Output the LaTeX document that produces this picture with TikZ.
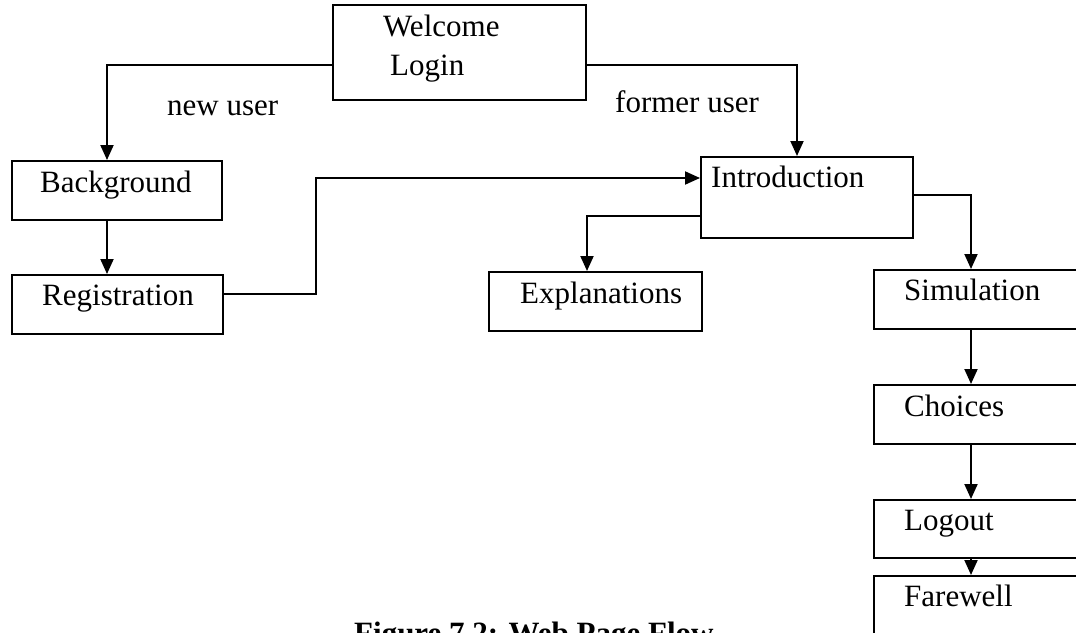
\documentclass[tikz,border=0pt]{standalone}
\usepackage{fontspec}
\setmainfont{Liberation Serif}
\usetikzlibrary{arrows.meta}
\tikzset{
  box/.style={draw, line width=2pt, rectangle, inner sep=0pt},
  lbl/.style={anchor=base west, inner sep=0pt, font=\fontsize{31}{36}\selectfont},
  arr/.style={line width=2pt, -{Triangle[length=15pt,width=13pt]}},
}
\begin{document}
\begin{tikzpicture}[x=1pt,y=-1pt]
\useasboundingbox (0,0) rectangle (1076,632);
\clip (0,0) rectangle (1076,632);
\fill[white] (0,0) rectangle (1076,632);
% boxes
\node[box, minimum width=253pt, minimum height=95pt] (welcome) at (459.5,52.5) {};
\node[box, minimum width=210pt, minimum height=59pt] (background) at (117,190.5) {};
\node[box, minimum width=211pt, minimum height=59pt] (registration) at (117.5,304.5) {};
\node[box, minimum width=212pt, minimum height=81pt] (intro) at (807,197.5) {};
\node[box, minimum width=213pt, minimum height=59pt] (expl) at (595.5,301.5) {};
\node[box, minimum width=216pt, minimum height=59pt] (sim) at (982,299.5) {};
\node[box, minimum width=216pt, minimum height=59pt] (choices) at (982,414.5) {};
\node[box, minimum width=216pt, minimum height=58pt] (logout) at (982,529) {};
\node[box, minimum width=216pt, minimum height=64pt] (farewell) at (982,608) {};
% texts
\node[lbl] (tw) at (383,36) {Welcome};
\node[lbl] (tl) at (390,75) {Login};
\node[lbl] (tnew) at (167,115) {new user};
\node[lbl] (tformer) at (615,112) {former user};
\node[lbl] (tb) at (40,192) {Background};
\node[lbl] (tr) at (42,305) {Registration};
\node[lbl] (ti) at (711,187) {Introduction};
\node[lbl] (te) at (520,303) {Explanations};
\node[lbl] (ts) at (904,300) {Simulation};
\node[lbl] (tc) at (904,416) {Choices};
\node[lbl] (tlo) at (904,530) {Logout};
\node[lbl] (tf) at (904,606) {Farewell};
\node[lbl, font=\fontsize{31}{36}\selectfont\bfseries] (cap) at (354,643) {Figure 7.2: Web Page Flow};
% bend points
\coordinate (c1) at (107,65);
\coordinate (c2) at (797,65);
\coordinate (c3) at (316,294);
\coordinate (c4) at (316,178);
\coordinate (c5) at (587,216);
\coordinate (c6) at (971,195);
% connectors
\draw[arr] (welcome.west |- c1) -- (c1) -- (c1 |- background.north);
\draw[arr] (welcome.east |- c2) -- (c2) -- (c2 |- intro.north);
\draw[arr] (c1 |- background.south) -- (c1 |- registration.north);
\draw[arr] (registration.east |- c3) -- (c3) -- (c4) -- (intro.west |- c4);
\draw[arr] (intro.west |- c5) -- (c5) -- (c5 |- expl.north);
\draw[arr] (intro.east |- c6) -- (c6) -- (c6 |- sim.north);
\draw[arr] (c6 |- sim.south) -- (c6 |- choices.north);
\draw[arr] (c6 |- choices.south) -- (c6 |- logout.north);
\draw[arr] (c6 |- logout.south) -- (c6 |- farewell.north);
\end{tikzpicture}
\end{document}
